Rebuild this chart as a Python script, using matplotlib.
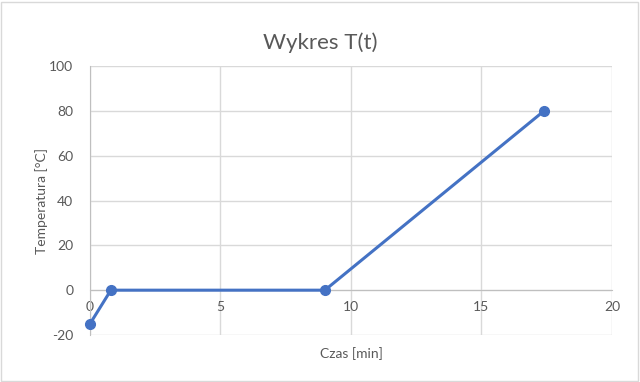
import matplotlib.pyplot as plt
from matplotlib.patches import Rectangle

# Data
czas = [0.0, 0.8, 9.0, 17.4]
temperatura = [-15, 0, 0, 80]
x_ticks = [0, 5, 10, 15, 20]
y_ticks = [-20, 0, 20, 40, 60, 80, 100]

plt.rcParams["font.family"] = ["Lato", "DejaVu Sans"]
plt.rcParams["axes.unicode_minus"] = False

fig = plt.figure(figsize=(6.4, 3.82), dpi=100)
fig.patch.set_facecolor("white")
fig.patches.append(Rectangle((0.002, 0.003), 0.995, 0.993, transform=fig.transFigure,
                             fill=False, edgecolor="#d9d9d9", linewidth=1))

ax = fig.add_axes([0.1406, 0.123, 0.8156, 0.7042])
ax.plot(czas, temperatura, color="#4472C4", linewidth=2.2, marker="o",
        markersize=7, zorder=3, clip_on=False)

ax.set_xlim(0, 20)
ax.set_ylim(-20, 100)
ax.set_xticks(x_ticks)
ax.set_yticks(y_ticks)
ax.grid(True, color="#d9d9d9", linewidth=1)
ax.set_axisbelow(True)

for side in ["top", "right"]:
    ax.spines[side].set_visible(False)
ax.spines["bottom"].set_position(("data", 0))
ax.spines["bottom"].set_color("#bfbfbf")
ax.spines["left"].set_color("#bfbfbf")
ax.tick_params(length=0, labelsize=10, labelcolor="#595959", pad=8)
ax.tick_params(axis="y", pad=12)

fig.suptitle("Wykres T(t)", x=0.5, y=0.915, fontsize=16, color="#595959")
ax.set_xlabel("Czas [min]", fontsize=10, color="#595959")
ax.set_ylabel("Temperatura [°C]", fontsize=10, color="#595959")
# x label sits below the chart bottom, not below the zero axis
ax.xaxis.set_label_coords(0.5, -0.045)
ax.yaxis.set_label_coords(-0.08, 0.5)

fig.savefig("out.png", dpi=100, facecolor="white")
